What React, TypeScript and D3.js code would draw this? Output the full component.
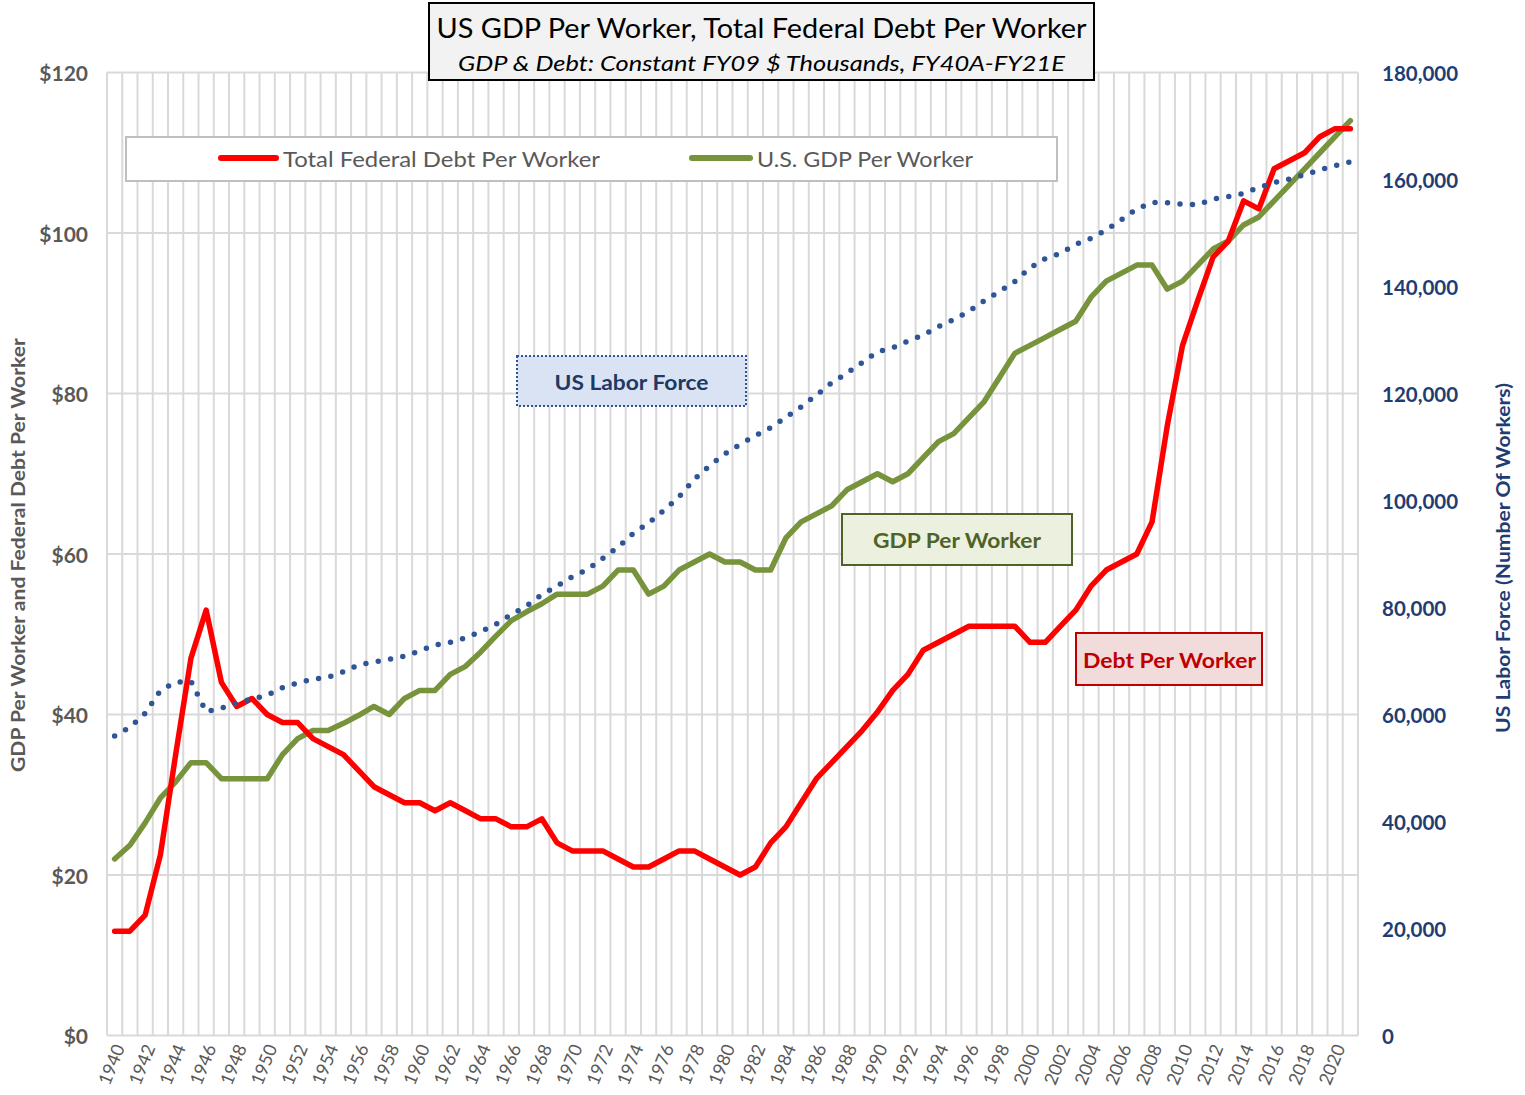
import React from 'react';
import * as d3 from 'd3';

const years: number[] = d3.range(1940, 2022);

const debtPerWorker: number[] = [
  13, 13, 15, 22.5, 35, 47, 53, 44, 41, 42,
  40, 39, 39, 37, 36, 35, 33, 31, 30, 29,
  29, 28, 29, 28, 27, 27, 26, 26, 27, 24,
  23, 23, 23, 22, 21, 21, 22, 23, 23, 22,
  21, 20, 21, 24, 26, 29, 32, 34, 36, 38,
  40.3, 43, 45, 48, 49, 50, 51, 51, 51, 51,
  49, 49, 51, 53, 56, 58, 59, 60, 64, 76,
  86, 91.6, 97, 99, 104, 103, 108, 109, 110, 112,
  113, 113,
];

const gdpPerWorker: number[] = [
  22, 23.7, 26.5, 29.6, 31.6, 34, 34, 32, 32, 32,
  32, 35, 37, 38, 38, 38.9, 39.9, 41, 40, 42,
  43, 43, 45, 46, 47.8, 49.8, 51.7, 52.8, 53.8, 55,
  55, 55, 56, 58, 58, 55, 56, 58, 59, 60,
  59, 59, 58, 58, 62, 64, 65, 66, 68, 69,
  70, 69, 70, 72, 74, 75, 77, 79, 82, 85,
  86, 87, 88, 89, 92, 94, 95, 96, 96, 93,
  94, 96, 98, 99, 101, 102, 104, 106, 108, 110,
  112, 114,
];

const laborForce: number[] = [
  56000, 57600, 60200, 64500, 66000, 66200, 60500, 61200, 62100, 62900,
  63600, 65000, 65900, 66600, 67000, 68000, 69300, 69800, 70300, 70900,
  71900, 73000, 73500, 74300, 75500, 76900, 78700, 80300, 82400, 84000,
  85760, 87100, 89200, 91300, 93850, 95800, 98150, 100700, 104000, 106500,
  108700, 110500, 112100, 113600, 115550, 117500, 119700, 122000, 123800, 125800,
  127800, 128550, 129800, 130900, 132500, 133800, 135350, 137350, 139060, 140900,
  143500, 145200, 146200, 147900, 149000, 150560, 152500, 154500, 155700, 155650,
  155400, 155300, 156350, 156800, 157400, 158500, 159400, 160100, 160900, 161800,
  162600, 163300,
];

const leftTicks: number[] = [0, 20, 40, 60, 80, 100, 120];
const rightTicks: number[] = [0, 20000, 40000, 60000, 80000, 100000, 120000, 140000, 160000, 180000];

const titleLine1 = 'US GDP Per Worker, Total Federal Debt Per Worker';
const titleLine2 = 'GDP & Debt: Constant FY09 $ Thousands, FY40A-FY21E';
const legendDebt = 'Total Federal Debt Per Worker';
const legendGdp = 'U.S. GDP Per Worker';
const leftTitle = 'GDP Per Worker and Federal Debt Per Worker';
const rightTitle = 'US Labor Force (Number Of Workers)';

const FONT = 'Lato, "Open Sans", sans-serif';
const GRAY = '#595959';
const BLUE = '#1F3D73';
const GRID = '#D9D9D9';

export default function App() {
  const left = 107;
  const right = 1358;
  const top = 72.5;
  const bottom = 1035.5;

  const x = d3.scaleBand<number>().domain(years).range([left, right]).paddingInner(0).paddingOuter(0);
  const bw = x.bandwidth();
  const cx = (yr: number) => (x(yr) as number) + bw / 2;
  const yL = d3.scaleLinear().domain([0, 120]).range([bottom, top]);
  const yR = d3.scaleLinear().domain([0, 180000]).range([bottom, top]);

  const lineL = d3.line<[number, number]>().x(d => cx(d[0])).y(d => yL(d[1]));
  const lineR = d3.line<[number, number]>().x(d => cx(d[0])).y(d => yR(d[1]));

  const debtPath = lineL(years.map((yr, i) => [yr, debtPerWorker[i]] as [number, number])) || '';
  const gdpPath = lineL(years.map((yr, i) => [yr, gdpPerWorker[i]] as [number, number])) || '';
  const laborPath = lineR(years.map((yr, i) => [yr, laborForce[i]] as [number, number])) || '';

  const boundaries = years.map(yr => x(yr) as number).concat([right]);
  const labelYears = years.filter(yr => (yr - 1940) % 2 === 0);

  return (
    <svg width={1525} height={1095} style={{ position: 'absolute', left: 0, top: 0, background: '#fff' }} fontFamily={FONT}>
      <rect x={0} y={0} width={1525} height={1095} fill="#fff" />
      {/* grid */}
      {boundaries.map((bx, i) => (
        <line key={'v' + i} x1={bx} x2={bx} y1={top} y2={bottom} stroke={GRID} strokeWidth={2} />
      ))}
      {leftTicks.map(t => (
        <line key={'h' + t} x1={left} x2={right} y1={yL(t)} y2={yL(t)} stroke={GRID} strokeWidth={2} />
      ))}

      {/* left axis labels */}
      {leftTicks.map(t => (
        <text key={'lt' + t} x={88} y={yL(t)} textAnchor="end" dominantBaseline="central" fontSize={21} fontWeight="bold" fill={GRAY}>
          {'$' + t}
        </text>
      ))}
      {/* right axis labels */}
      {rightTicks.map(t => (
        <text key={'rt' + t} x={1382} y={yR(t)} textAnchor="start" dominantBaseline="central" fontSize={20.5} fontWeight="bold" fill={BLUE}>
          {d3.format(',')(t)}
        </text>
      ))}
      {/* x labels */}
      {labelYears.map(yr => (
        <text key={'xl' + yr} transform={`translate(${cx(yr) + 4},${1045}) rotate(-68)`} textAnchor="end" dominantBaseline="central" fontSize={18} fill={GRAY}>
          {yr}
        </text>
      ))}

      {/* axis titles */}
      <text transform={`translate(18,555) rotate(-90)`} textAnchor="middle" dominantBaseline="central" fontSize={18} fontWeight="bold" fill={GRAY} textLength={434} lengthAdjust="spacingAndGlyphs">
        {leftTitle}
      </text>
      <text transform={`translate(1503,558) rotate(-90)`} textAnchor="middle" dominantBaseline="central" fontSize={18} fontWeight="bold" fill={BLUE} textLength={350} lengthAdjust="spacingAndGlyphs">
        {rightTitle}
      </text>

      {/* series */}
      <path d={gdpPath} fill="none" stroke="#77933C" strokeWidth={5.5} strokeLinejoin="round" strokeLinecap="round" />
      <path d={debtPath} fill="none" stroke="#FF0000" strokeWidth={5.5} strokeLinejoin="round" strokeLinecap="round" />
      <path d={laborPath} fill="none" stroke="#2F5597" strokeWidth={5.5} strokeDasharray="0 12.5" strokeLinecap="round" />

      {/* title box */}
      <rect x={429} y={3} width={665} height={77} fill="#F2F2F2" stroke="#000" strokeWidth={2} />
      <text x={761.5} y={27} textAnchor="middle" dominantBaseline="central" fontSize={27} fill="#000" textLength={650} lengthAdjust="spacingAndGlyphs">
        {titleLine1}
      </text>
      <text x={761.5} y={62} textAnchor="middle" dominantBaseline="central" fontSize={22} fontStyle="italic" fill="#000" textLength={607} lengthAdjust="spacingAndGlyphs">
        {titleLine2}
      </text>

      {/* legend */}
      <rect x={126} y={137} width={931} height={44} fill="#fff" stroke="#BFBFBF" strokeWidth={2} />
      <line x1={221} x2={276} y1={158} y2={158} stroke="#FF0000" strokeWidth={6} strokeLinecap="round" />
      <text x={283} y={158} dominantBaseline="central" fontSize={21} fill={GRAY} textLength={317} lengthAdjust="spacingAndGlyphs">{legendDebt}</text>
      <line x1={692} x2={750} y1={158} y2={158} stroke="#77933C" strokeWidth={6} strokeLinecap="round" />
      <text x={757} y={158} dominantBaseline="central" fontSize={21} fill={GRAY} textLength={216} lengthAdjust="spacingAndGlyphs">{legendGdp}</text>

      {/* annotation boxes */}
      <rect x={517} y={356} width={229} height={50} fill="#DAE3F3" stroke="#2F5597" strokeWidth={2} strokeDasharray="2 2" />
      <text x={631.5} y={381} textAnchor="middle" dominantBaseline="central" fontSize={21} fontWeight="bold" fill="#203864" textLength={154} lengthAdjust="spacingAndGlyphs">US Labor Force</text>

      <rect x={842} y={514} width={230} height={51} fill="#EBF1DE" stroke="#4F6228" strokeWidth={2} />
      <text x={957} y={539.5} textAnchor="middle" dominantBaseline="central" fontSize={21} fontWeight="bold" fill="#4F6228" textLength={168} lengthAdjust="spacingAndGlyphs">GDP Per Worker</text>

      <rect x={1076} y={633} width={186} height={52} fill="#F2DCDB" stroke="#C00000" strokeWidth={2} />
      <text x={1169.5} y={659} textAnchor="middle" dominantBaseline="central" fontSize={21} fontWeight="bold" fill="#C00000" textLength={173} lengthAdjust="spacingAndGlyphs">Debt Per Worker</text>
    </svg>
  );
}
